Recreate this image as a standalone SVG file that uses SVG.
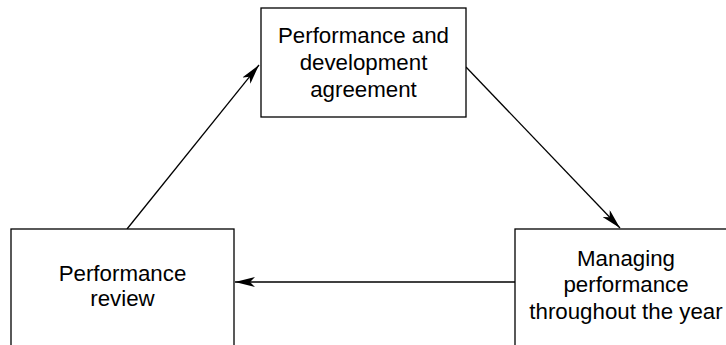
<svg xmlns="http://www.w3.org/2000/svg" width="726" height="345" viewBox="0 0 726 345">
<defs>
<marker id="ah" viewBox="0 0 20 10" refX="20" refY="5" markerWidth="20" markerHeight="10" markerUnits="userSpaceOnUse" orient="auto">
<path d="M0,0 L20,5 L0,10 L5,5 Z" fill="#000"/>
</marker>
</defs>
<style>
.box{fill:#fff;stroke:#000;stroke-width:1.3}
.t{font-family:"Liberation Sans",Arial,sans-serif;font-size:22.3px;text-anchor:middle;fill:#000}
.c{stroke:#000;stroke-width:1.3;fill:none;marker-end:url(#ah)}
</style>
<rect width="726" height="345" fill="#fff"/>
<g id="connectors">
<line class="c" x1="127" y1="229" x2="259" y2="65"/>
<line class="c" x1="466" y1="67" x2="620" y2="228"/>
<line class="c" x1="515" y1="282" x2="235" y2="282"/>
</g>
<g id="agreement">
<rect class="box" x="261" y="8" width="205" height="109"/>
<text class="t" x="363.5" y="43">Performance and</text>
<text class="t" x="363.5" y="70">development</text>
<text class="t" x="363.5" y="97">agreement</text>
</g>
<g id="review">
<rect class="box" x="11" y="229" width="223" height="130"/>
<text class="t" x="122.5" y="281">Performance</text>
<text class="t" x="122.5" y="306">review</text>
</g>
<g id="managing">
<rect class="box" x="515" y="229" width="230" height="130"/>
<text class="t" x="626" y="266">Managing</text>
<text class="t" x="626" y="292">performance</text>
<text class="t" x="626" y="319">throughout the year</text>
</g>
</svg>
